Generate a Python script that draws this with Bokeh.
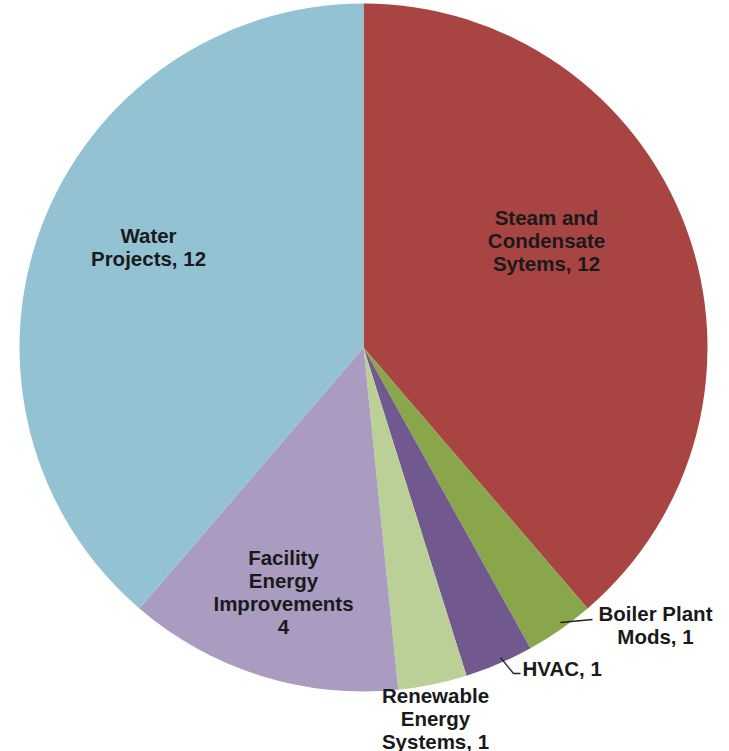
import math
from bokeh.plotting import figure
from bokeh.models import Range1d
from bokeh.core.properties import value
from bokeh.embed import file_html
from bokeh.resources import INLINE

# ---- data ----
categories = ["Steam and Condensate Sytems", "Boiler Plant Mods", "HVAC",
              "Renewable Energy Systems", "Facility Energy Improvements", "Water Projects"]
counts = [12, 1, 1, 1, 4, 12]
colors = ["#A84543", "#8AA64B", "#71588F", "#BBD096", "#A99CC0", "#93C2D3"]
label_lines = [
    ["Steam and", "Condensate", "Sytems, 12"],
    ["Boiler Plant", "Mods, 1"],
    ["HVAC, 1"],
    ["Renewable", "Energy", "Systems, 1"],
    ["Facility", "Energy", "Improvements", "4"],
    ["Water", "Projects, 12"],
]

# ---- layout (pixel space, y measured from top) ----
W, H = 729, 751
CX, CY, R = 363, 347, 344
label_pos = [  # x, y of first line center, align
    (546, 217, "center"),
    (655, 613, "center"),
    (522, 668, "left"),
    (435, 695, "center"),
    (283, 557, "center"),
    (148, 235, "center"),
]
LINE_GAP = 23

p = figure(width=W, height=H, x_range=Range1d(0, W), y_range=Range1d(0, H),
           output_backend="svg", toolbar_location=None, min_border=0,
           background_fill_color="white", border_fill_color="white")
p.axis.visible = False
p.grid.visible = False
p.outline_line_color = None

total = sum(counts)
cum = 0
starts, ends = [], []
for c in counts:
    starts.append(math.pi / 2 - 2 * math.pi * cum / total)
    cum += c
    ends.append(math.pi / 2 - 2 * math.pi * cum / total)

p.wedge(x=[CX] * len(counts), y=[H - CY] * len(counts), radius=R,
        start_angle=starts, end_angle=ends, direction="clock",
        fill_color=colors, line_color=None)

# leader lines
p.line(x=[560, 592], y=[H - 622, H - 619], line_color="#222222", line_width=1.3)
p.line(x=[500, 513, 520], y=[H - 657, H - 673, H - 673], line_color="#222222", line_width=1.3)

tx, ty, ttxt, talign = [], [], [], []
for lines, (x, y0, al) in zip(label_lines, label_pos):
    for i, ln in enumerate(lines):
        tx.append(x)
        ty.append(H - (y0 + i * LINE_GAP))
        ttxt.append(ln)
        talign.append(al)

p.text(x=tx, y=ty, text=ttxt, text_align=talign, text_baseline="middle",
       text_font=value("Liberation Sans"), text_font_style="bold",
       text_font_size="20.5px", text_color="#1a1a1a")

open("out.html", "w").write(file_html(p, INLINE))
